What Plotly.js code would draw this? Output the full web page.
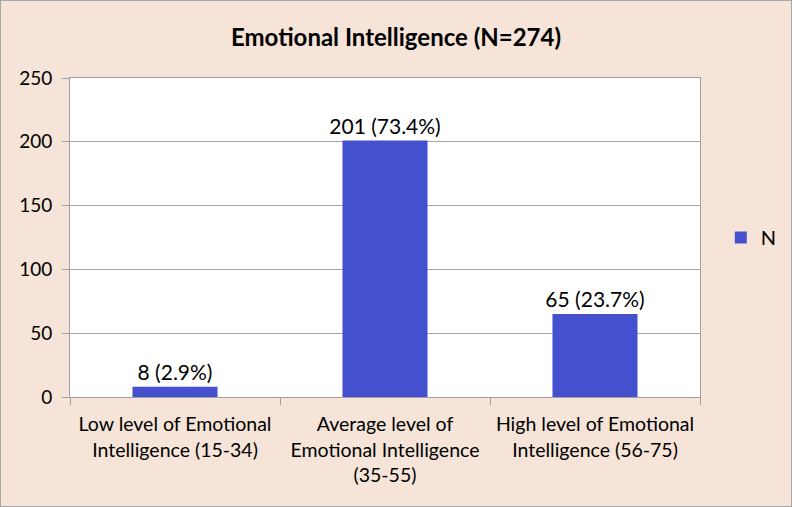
<!DOCTYPE html>
<html>
<head>
<meta charset="utf-8">
<script src="https://cdn.plot.ly/plotly-3.0.1.min.js"></script>
<style>
html,body{margin:0;padding:0;background:#F5E4D7;}
#chart{width:790px;height:505px;border:1px solid #A6A6A6;}
</style>
</head>
<body>
<div id="chart"></div>
<script>
const categories = [
  "Low level of Emotional<br>Intelligence (15-34)",
  "Average level of<br>Emotional Intelligence<br>(35-55)",
  "High level of Emotional<br>Intelligence (56-75)"
];
const counts = [8, 201, 65];
const percents = [2.9, 73.4, 23.7];
const seriesName = "N";
const labels = counts.map((c, i) => c + " (" + percents[i].toFixed(1) + "%)");

const font = "Lato, 'Open Sans', sans-serif";

Plotly.newPlot("chart", [{
  type: "bar",
  x: categories,
  y: counts,
  name: seriesName,
  text: labels,
  textposition: "outside",
  texttemplate: "%{text}",
  constraintext: "none",
  cliponaxis: false,
  textfont: {family: font, size: 21, color: "#000"},
  marker: {color: "#4550CF"},
  hoverinfo: "skip"
}], {
  width: 790, height: 505,
  paper_bgcolor: "#F5E4D7",
  plot_bgcolor: "#FFFFFF",
  margin: {l: 69, r: 91, t: 77, b: 109, autoexpand: false},
  bargap: 0.595,
  title: {text: "<b>Emotional Intelligence (N=274)</b>", font: {family: font, size: 24, color: "#000"}, x: 0.5, xanchor: "center", y: 0.927, yanchor: "middle"},
  showlegend: true,
  legend: {x: 1.033, xanchor: "left", y: 0.5, yanchor: "middle", font: {family: font, size: 20, color: "#000"}, bgcolor: "rgba(0,0,0,0)", itemwidth: 30},
  xaxis: {
    type: "category",
    tickson: "boundaries",
    tickangle: 0,
    ticks: "outside", ticklen: 7, tickcolor: "#A0A0A0",
    showline: true, linecolor: "#A0A0A0", mirror: true,
    showgrid: false,
    tickfont: {family: font, size: 19.5, color: "#000"},
    ticklabelstandoff: 10,
    fixedrange: true
  },
  yaxis: {
    range: [0, 250], dtick: 50,
    ticks: "outside", ticklen: 7, tickcolor: "#A0A0A0",
    showline: true, linecolor: "#A0A0A0", mirror: true,
    showgrid: true, gridcolor: "#A6A6A6",
    zeroline: false,
    tickfont: {family: font, size: 19, color: "#000"},
    ticklabelstandoff: 6,
    fixedrange: true
  }
}, {displayModeBar: false, staticPlot: true});
</script>
</body>
</html>
